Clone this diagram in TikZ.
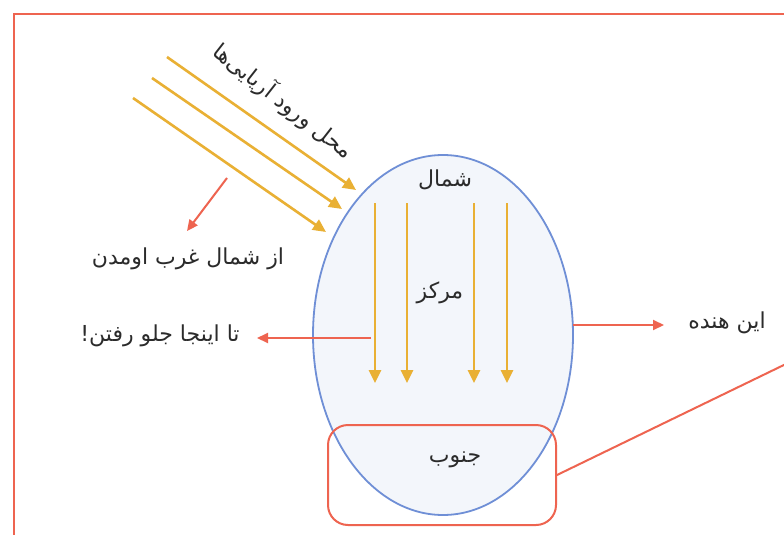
\documentclass[tikz,border=0pt]{standalone}
\usepackage{fontspec}
\usetikzlibrary{arrows.meta,shapes.geometric}
\TeXXeTstate=1
\newfontfamily\arabicfont[Script=Arabic]{DejaVu Sans}
\definecolor{frame}{HTML}{EE6450}
\definecolor{gold}{HTML}{E9B034}
\definecolor{ellblue}{HTML}{6F8FD6}
\definecolor{ellfill}{HTML}{F3F6FB}
\definecolor{txt}{HTML}{2B2B2B}
\tikzset{
  goldarrow/.style={draw=gold, line width=2.6pt, -{Triangle[length=13pt,width=12pt]}},
  redarrow/.style={draw=frame, line width=2pt, -{Triangle[length=11pt,width=10pt]}},
  fa/.style={text=txt, font=\arabicfont\fontsize{22}{26}\selectfont, inner sep=1pt},
}
\begin{document}
\begin{tikzpicture}[x=1pt,y=-1pt]
\useasboundingbox (0,0) rectangle (784,535);
\fill[white] (0,0) rectangle (784,535);
% frame
\draw[frame, line width=2.6pt] (14,545) -- (14,14) -- (795,14);
% ellipse
\node (ell) [ellipse, draw=ellblue, fill=ellfill, line width=1.8pt, minimum width=260pt, minimum height=360pt, inner sep=0pt] at (443,335) {};
% south box
\node (south) [draw=frame, line width=2pt, rounded corners=20pt, minimum width=228pt, minimum height=100pt] at (442,475) {};
\coordinate (farR) at (790,362);
\draw[frame, line width=2pt] (south.east) -- (farR);
% diagonal arrows
\coordinate (d1s) at (167,57); \coordinate (d1e) at (356,190);
\coordinate (d2s) at (152,78); \coordinate (d2e) at (342,209);
\coordinate (d3s) at (133,98); \coordinate (d3e) at (326,232);
\draw[goldarrow] (d1s) -- (d1e);
\draw[goldarrow] (d2s) -- (d2e);
\draw[goldarrow] (d3s) -- (d3e);
% vertical arrows
\foreach \x/\n in {375/a,407/b,474/c,507/d}{
  \coordinate (v\n s) at (\x,203);
  \coordinate (v\n e) at (\x,383);
  \draw[goldarrow] (v\n s) -- (v\n e);
}
% labels
\node (entry) [fa, rotate=-38] at (283,101) {\beginR محل ورود آریایی‌ها\endR};
\node (nw) [fa] at (188,259) {\beginR از شمال غرب اومدن\endR};
\node (far) [fa] at (160,336) {\beginR تا اینجا جلو رفتن!\endR};
\node (here) [fa] at (727,323) {\beginR این هنده\endR};
\node (north) [fa] at (445,180) {\beginR شمال\endR};
\node (center) [fa] at (440,293) {\beginR مرکز\endR};
\node (southt) [fa] at (455,460) {\beginR جنوب\endR};
% red arrows
\coordinate (nwa) at (227,178);
\coordinate (nwb) at (187,231);
\draw[redarrow] (nwa) -- (nwb);
\coordinate (farS) at (371,338);
\coordinate (farE) at (257,338);
\draw[redarrow] (farS) -- (farE);
\coordinate (hereS) at (573,325);
\coordinate (hereE) at (664,325);
\draw[redarrow] (hereS) -- (hereE);
\end{tikzpicture}
\end{document}
